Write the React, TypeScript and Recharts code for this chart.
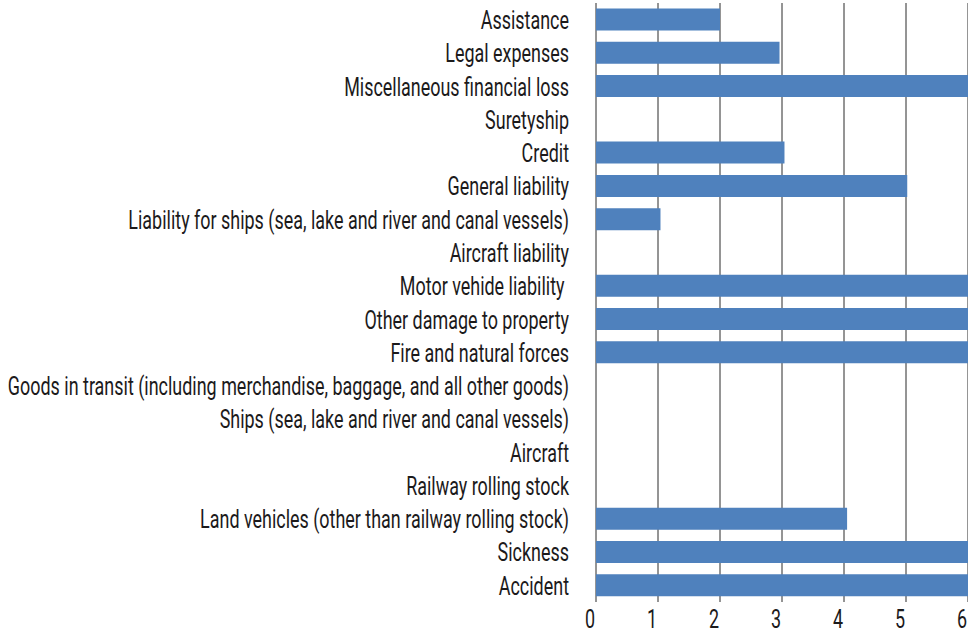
import React from 'react';
import { BarChart, Bar, XAxis, YAxis, CartesianGrid } from 'recharts';

const categories = [
  'Assistance',
  'Legal expenses',
  'Miscellaneous financial loss',
  'Suretyship',
  'Credit',
  'General liability',
  'Liability for ships (sea, lake and river and canal vessels)',
  'Aircraft liability',
  'Motor vehide liability\u00a0',
  'Other damage to property',
  'Fire and natural forces',
  'Goods in transit (including merchandise, baggage, and all other goods)',
  'Ships (sea, lake and river and canal vessels)',
  'Aircraft',
  'Railway rolling stock',
  'Land vehicles (other than railway rolling stock)',
  'Sickness',
  'Accident'
];

const values = [2, 2.96, 6, 0, 3.04, 5.02, 1.04, 0, 6, 6, 6, 0, 0, 0, 0, 4.05, 6, 6];

const xTicks = [0, 1, 2, 3, 4, 5, 6];

const data = categories.map((name, i) => ({ name, value: values[i] }));

const FONT = 'Roboto, sans-serif';
const TEXT_COLOR = '#1c1a1b';
const SQUEEZE = 0.69;

function CategoryTick({ x, y, payload }: any) {
  return (
    <g transform={`translate(${x},${y})`}>
      <text
        transform={`scale(${SQUEEZE},1)`}
        textAnchor="end"
        dy="0.36em"
        fontFamily={FONT}
        fontSize={26}
        fill={TEXT_COLOR}
      >
        {payload.value}
      </text>
    </g>
  );
}

function ValueTick({ x, y, payload }: any) {
  return (
    <g transform={`translate(${x - 6},${y})`}>
      <text
        transform={`scale(${SQUEEZE},1)`}
        textAnchor="middle"
        y={26}
        fontFamily={FONT}
        fontSize={26}
        fill={TEXT_COLOR}
      >
        {payload.value}
      </text>
    </g>
  );
}

export default function App() {
  return (
    <div
      style={{
        position: 'fixed',
        left: 0,
        top: 0,
        width: 968,
        height: 635,
        overflow: 'hidden',
        background: '#fff'
      }}
    >
      <BarChart
        layout="vertical"
        width={968}
        height={635}
        data={data}
        margin={{ top: 3, right: 0, bottom: 0, left: 0 }}
        barCategoryGap="16.5%"
      >
        <CartesianGrid horizontal={false} vertical stroke="#2a2a2a" />
        <XAxis
          type="number"
          domain={[0, 6]}
          ticks={xTicks}
          axisLine={false}
          tickLine={false}
          tickSize={0}
          tickMargin={0}
          height={33}
          interval={0}
          tick={<ValueTick />}
        />
        <YAxis
          type="category"
          dataKey="name"
          width={596}
          axisLine={false}
          tickLine={false}
          tickSize={0}
          tickMargin={27}
          interval={0}
          tick={<CategoryTick />}
        />
        <Bar dataKey="value" fill="#4f81bd" isAnimationActive={false} />
      </BarChart>
    </div>
  );
}
